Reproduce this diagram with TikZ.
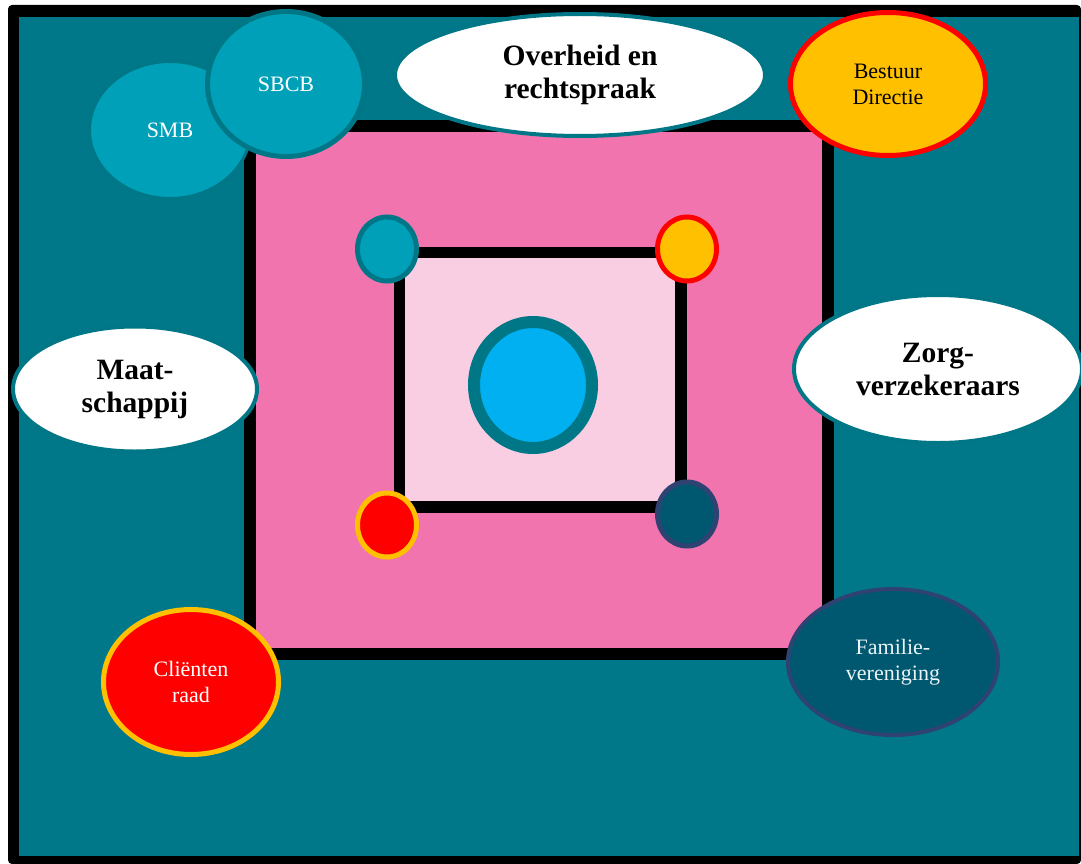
\documentclass[tikz,border=0pt]{standalone}
\usepackage{fontspec}
\setmainfont{Liberation Serif}
\usepackage{tikz}
\usetikzlibrary{shapes.geometric}
\definecolor{bgteal}{HTML}{00788A}
\definecolor{lightteal}{HTML}{00A0B8}
\definecolor{rimteal}{HTML}{007787}
\definecolor{hotpink}{HTML}{F274AE}
\definecolor{palepink}{HTML}{F9CDE2}
\definecolor{gold}{HTML}{FFC000}
\definecolor{skyblue}{HTML}{00B0F0}
\definecolor{deepteal}{HTML}{005870}
\definecolor{slateblue}{HTML}{2E4372}
\tikzset{
  x=1pt, y=-1pt,
  blob/.style={ellipse, align=center, inner sep=0pt},
  bigtext/.style={font=\bfseries\fontsize{29.5}{33}\selectfont},
  smalltext/.style={font=\fontsize{22}{26}\selectfont},
  whiteblob/.style={blob, bigtext, fill=white, draw=rimteal, line width=4pt},
  tealblob/.style={blob, smalltext, text=white, fill=lightteal, draw=rimteal},
  dot/.style={ellipse, inner sep=0pt, minimum width=59pt, minimum height=64pt, line width=5pt}
}
\begin{document}
\begin{tikzpicture}
\useasboundingbox (0,0) rectangle (1081,864);

% kader
\fill[black, rounded corners=4pt] (8,5) rectangle (1081,864);
\fill[bgteal] (19,17) rectangle (1079,856);

% vierkanten
\draw[line width=12pt, fill=hotpink] (250,126) rectangle (828,654);
\draw[line width=11.5pt, fill=palepink] (399.5,252.5) rectangle (681,507);

% hoekpunten en midden
\node[dot, fill=lightteal, draw=rimteal] (tl) at (387,249) {};
\node[dot, fill=gold, draw=red] (tr) at (687,249) {};
\node[dot, fill=red, draw=gold] (bl) at (387,525) {};
\node[dot, fill=deepteal, draw=slateblue] (br) at (687,514) {};
\node[ellipse, inner sep=0pt, minimum width=118pt, minimum height=126pt,
      line width=12pt, fill=skyblue, draw=rimteal] (kern) at (533,385) {};

% partijen
\node[tealblob, line width=3pt, minimum width=161pt, minimum height=137pt] (smb) at (170,130) {SMB};
\node[tealblob, line width=5pt, minimum width=157pt, minimum height=145pt] (sbcb) at (286,84) {SBCB};
\node[whiteblob, minimum width=370pt, minimum height=122pt] (overheid) at (580,75) {Overheid en\\rechtspraak};
\node[blob, smalltext, fill=gold, draw=red, line width=5pt, minimum width=195pt, minimum height=143pt] (bestuur) at (888,84) {Bestuur\\Directie};
\node[whiteblob, minimum width=244pt, minimum height=125pt] (maat) at (135,389) {Maat-\\schappij};
\node[whiteblob, minimum width=288pt, minimum height=148pt] (zorg) at (938,369) {Zorg-\\verzekeraars};
\node[blob, smalltext, text=white, fill=red, draw=gold, line width=5pt, minimum width=175pt, minimum height=145pt] (client) at (191,682) {Cliënten\\raad};
\node[blob, smalltext, text=white!92!bgteal, fill=deepteal, draw=slateblue, line width=4pt, minimum width=210pt, minimum height=146pt] (familie) at (893,662) {Familie-\\vereniging};

\end{tikzpicture}
\end{document}
